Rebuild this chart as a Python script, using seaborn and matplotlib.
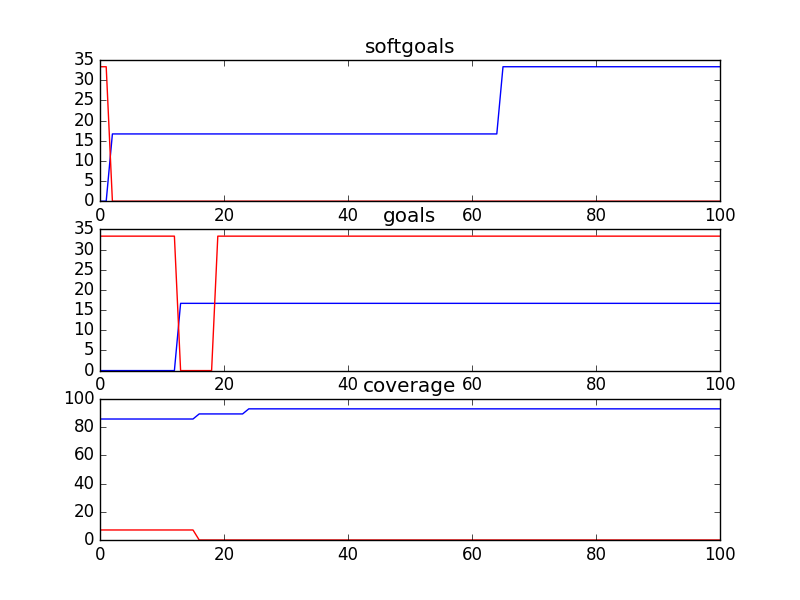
import matplotlib
matplotlib.use("Agg")
import matplotlib.pyplot as plt
import seaborn as sns

plt.style.use("classic")

# breakpoints of each series (x = iteration, y = value)
soft_blue_x = [0, 1, 2, 64, 65, 100]
soft_blue_y = [0, 0, 16.67, 16.67, 33.33, 33.33]
soft_red_x = [0, 1, 2, 100]
soft_red_y = [33.33, 33.33, 0, 0]

goals_blue_x = [0, 12, 13, 100]
goals_blue_y = [0, 0, 16.67, 16.67]
goals_red_x = [0, 12, 13, 18, 19, 100]
goals_red_y = [33.33, 33.33, 0, 0, 33.33, 33.33]

cov_blue_x = [0, 15, 16, 23, 24, 100]
cov_blue_y = [85.7, 85.7, 89.3, 89.3, 92.9, 92.9]
cov_red_x = [0, 15, 16, 100]
cov_red_y = [7.1, 7.1, 0, 0]

panels = [
    ("softgoals", soft_blue_x, soft_blue_y, soft_red_x, soft_red_y, 35),
    ("goals", goals_blue_x, goals_blue_y, goals_red_x, goals_red_y, 35),
    ("coverage", cov_blue_x, cov_blue_y, cov_red_x, cov_red_y, 100),
]

fig, axes = plt.subplots(3, 1, figsize=(8, 6), dpi=100)
for ax, (title, bx, by, rx, ry, top) in zip(axes, panels):
    sns.lineplot(x=bx, y=by, ax=ax, color="blue", linewidth=1)
    sns.lineplot(x=rx, y=ry, ax=ax, color="red", linewidth=1)
    ax.set_xlim(0, 100)
    ax.set_ylim(0, top)
    ax.set_title(title)

fig.savefig("out.png", dpi=100)
